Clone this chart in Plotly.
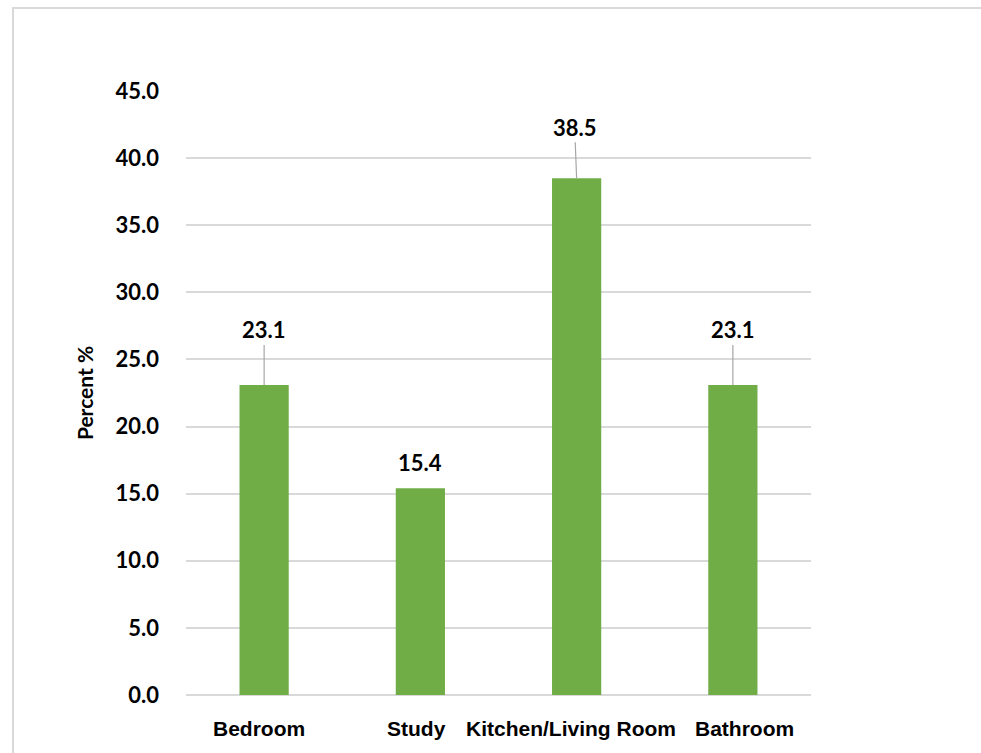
import plotly.graph_objects as go

# Share of respondents by room
rooms = ["Bedroom", "Study", "Kitchen/Living Room", "Bathroom"]
percent = [23.1, 15.4, 38.5, 23.1]

y_ticks = [0, 5, 10, 15, 20, 25, 30, 35, 40, 45]

# Horizontal nudges (pixels) for the category labels so neighbours keep a gap
cat_label_shift = [-5, -4, -6, 12]

# Callout offsets (pixels) for each value label: tail x, tail y, with/without leader line
label_ax = [0, 0, -2, 0]
label_ay = [-55, -26, -51, -55]
leader = [True, False, True, True]

BAR_GREEN = "#70AD47"
GRID = "#d9d9d9"
NUM_FONT = "Lato"
CAT_FONT = "Liberation Sans"

fig = go.Figure()
fig.add_trace(go.Bar(
    x=rooms,
    y=percent,
    marker=dict(color=BAR_GREEN, line=dict(width=0)),
    width=0.315,
    hoverinfo="x+y",
))

annotations = []
# value callouts
for room, val, ax, ay, has_line in zip(rooms, percent, label_ax, label_ay, leader):
    annotations.append(dict(
        x=room, y=val, xref="x", yref="y",
        text=f"<b>{val:.1f}</b>",
        showarrow=True,
        arrowhead=0,
        arrowwidth=1.2,
        arrowcolor="#a6a6a6" if has_line else "rgba(0,0,0,0)",
        ax=ax, ay=ay,
        font=dict(family=NUM_FONT, size=22, color="#000000"),
        borderpad=1,
    ))
# category labels under the axis
for room, shift in zip(rooms, cat_label_shift):
    annotations.append(dict(
        x=room, y=0, xref="x", yref="paper",
        text=f"<b>{room}</b>",
        showarrow=False,
        xanchor="center", yanchor="top",
        xshift=shift, yshift=-20,
        font=dict(family=CAT_FONT, size=21, color="#000000"),
    ))

fig.update_layout(
    width=981,
    height=753,
    margin=dict(l=186, r=170, t=91, b=58),
    paper_bgcolor="white",
    plot_bgcolor="white",
    showlegend=False,
    bargap=0.685,
    annotations=annotations,
    shapes=[dict(
        type="rect", xref="paper", yref="paper",
        x0=-0.2768, x1=1.35, y0=-0.2, y1=1.1374,
        line=dict(color=GRID, width=2),
        fillcolor="rgba(0,0,0,0)",
        layer="below",
    )],
)

fig.update_xaxes(
    type="category",
    showticklabels=False,
    showgrid=False,
    showline=False,
    zeroline=False,
    ticks="",
)

fig.update_yaxes(
    range=[0, 45],
    tickvals=y_ticks,
    tickformat=".1f",
    showgrid=True,
    gridcolor=GRID,
    gridwidth=1.5,
    zeroline=True,
    zerolinecolor=GRID,
    zerolinewidth=1.5,
    showline=False,
    ticks="",
    ticklabelstandoff=26,
    tickfont=dict(family=NUM_FONT, size=22, color="#000000", weight="bold"),
    title=dict(
        text="<b>Percent %</b>",
        font=dict(family=NUM_FONT, size=21, color="#000000"),
        standoff=16,
    ),
)

fig.write_html("out.html")
